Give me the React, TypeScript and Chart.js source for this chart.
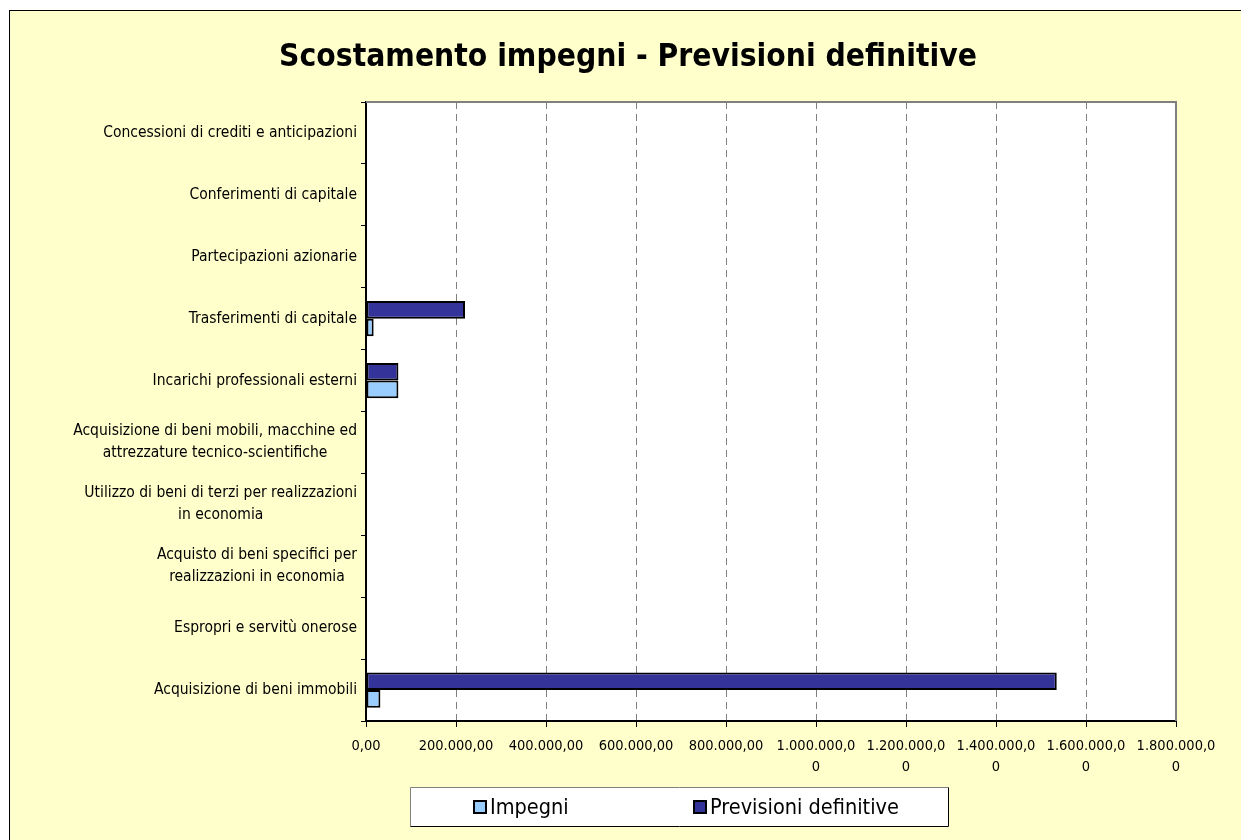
import { useEffect, useRef } from "react";
import { Chart, registerables } from "chart.js";

Chart.register(...registerables);

const titleText = "Scostamento impegni - Previsioni definitive";

const categories: string[][] = [
  ["Acquisizione di beni immobili"],
  ["Espropri e servitù onerose"],
  ["Acquisto di beni specifici per", "realizzazioni in economia"],
  ["Utilizzo di beni di terzi per realizzazioni", "in economia"],
  ["Acquisizione di beni mobili, macchine ed", "attrezzature tecnico-scientifiche"],
  ["Incarichi professionali esterni"],
  ["Trasferimenti di capitale"],
  ["Partecipazioni azionarie"],
  ["Conferimenti di capitale"],
  ["Concessioni di crediti e anticipazioni"],
];

const impegni = [32000, 0, 0, 0, 0, 72000, 17000, 0, 0, 0];
const previsioni = [1535000, 0, 0, 0, 0, 72000, 220000, 0, 0, 0];

const xTickLabels: (string | string[])[] = [
  "0,00",
  "200.000,00",
  "400.000,00",
  "600.000,00",
  "800.000,00",
  ["1.000.000,0", "0"],
  ["1.200.000,0", "0"],
  ["1.400.000,0", "0"],
  ["1.600.000,0", "0"],
  ["1.800.000,0", "0"],
];

const FONT = 'Tahoma, "DejaVu Sans Condensed", "Liberation Sans", sans-serif';

const framePlugin = {
  id: "frame",
  beforeDraw(chart: any) {
    const { ctx, chartArea } = chart;
    ctx.save();
    ctx.fillStyle = "#ffffff";
    ctx.fillRect(0, 0, chart.width, chart.height);
    ctx.fillStyle = "#FFFFCC";
    ctx.fillRect(9, 10, chart.width, chart.height);
    ctx.strokeStyle = "#000000";
    ctx.lineWidth = 1;
    ctx.strokeRect(9.5, 10.5, chart.width + 20, chart.height + 20);
    ctx.fillStyle = "#ffffff";
    ctx.fillRect(chartArea.left, chartArea.top, chartArea.right - chartArea.left, chartArea.bottom - chartArea.top);
    ctx.restore();
  },
  afterDraw(chart: any) {
    const { ctx, chartArea } = chart;
    ctx.save();
    // plot area top and right edges
    ctx.strokeStyle = "#808080";
    ctx.lineWidth = 2;
    ctx.beginPath();
    ctx.moveTo(chartArea.left, chartArea.top);
    ctx.lineTo(chartArea.right, chartArea.top);
    ctx.lineTo(chartArea.right, chartArea.bottom);
    ctx.stroke();

    // title
    ctx.fillStyle = "#000000";
    ctx.font = "bold 31.5px " + FONT;
    ctx.textAlign = "center";
    ctx.textBaseline = "middle";
    ctx.fillText(titleText, 628, 58);

    // category labels
    const yScale = chart.scales.y;
    ctx.font = "15.5px " + FONT;
    const lh = 22;
    categories.forEach((lines, i) => {
      const cy = yScale.getPixelForValue(i);
      let maxW = 0;
      lines.forEach((l) => {
        maxW = Math.max(maxW, ctx.measureText(l).width);
      });
      const cx = 357 - maxW / 2;
      const startY = cy - ((lines.length - 1) * lh) / 2;
      lines.forEach((l, j) => {
        ctx.fillText(l, cx, startY + j * lh);
      });
    });

    // legend
    const lx = 410, ly = 787, lw = 539, lhgt = 40;
    ctx.fillStyle = "#ffffff";
    ctx.fillRect(lx, ly, lw, lhgt);
    ctx.lineWidth = 1;
    ctx.strokeStyle = "#808080";
    ctx.beginPath();
    ctx.moveTo(lx + 0.5, ly + lhgt - 0.5);
    ctx.lineTo(lx + 0.5, ly + 0.5);
    ctx.lineTo(lx + lw - 0.5, ly + 0.5);
    ctx.stroke();
    ctx.strokeStyle = "#000000";
    ctx.beginPath();
    ctx.moveTo(lx + lw - 0.5, ly + 0.5);
    ctx.lineTo(lx + lw - 0.5, ly + lhgt - 0.5);
    ctx.lineTo(lx + 0.5, ly + lhgt - 0.5);
    ctx.stroke();
    const itemX = [474, 694];
    ctx.font = "21.5px " + FONT;
    ctx.textAlign = "left";
    // legend in reading order: Impegni first
    const order = [1, 0];
    order.forEach((dsIndex, i) => {
      const ds: any = chart.data.datasets[dsIndex];
      const x = itemX[i];
      const y = 807;
      ctx.fillStyle = ds.backgroundColor;
      ctx.fillRect(x, y - 6, 12, 12);
      ctx.strokeStyle = "#000000";
      ctx.lineWidth = 2;
      ctx.strokeRect(x, y - 6, 12, 12);
      ctx.fillStyle = "#000000";
      ctx.fillText(ds.label, x + 16, y + 1);
    });
    ctx.restore();
  },
};

export default function App() {
  const ref = useRef<HTMLCanvasElement>(null);
  useEffect(() => {
    if (!ref.current) return;
    const chart = new Chart(ref.current, {
      type: "bar",
      data: {
        labels: categories.map((c) => c.join(" ")),
        datasets: [
          {
            label: "Previsioni definitive",
            data: previsioni,
            backgroundColor: "#333399",
            borderColor: "#000000",
            borderWidth: 2,
            borderSkipped: false,
            barPercentage: 1,
            categoryPercentage: 0.57,
          },
          {
            label: "Impegni",
            data: impegni,
            backgroundColor: "#99CCFF",
            borderColor: "#000000",
            borderWidth: 2,
            borderSkipped: false,
            barPercentage: 1,
            categoryPercentage: 0.57,
          },
        ],
      },
      options: {
        indexAxis: "y",
        responsive: false,
        animation: false,
        layout: { padding: { left: 0, right: 65, top: 102, bottom: 59 } },
        plugins: {
          legend: { display: false },
          title: { display: false },
          tooltip: { enabled: false },
        },
        scales: {
          x: {
            min: 0,
            max: 1800000,
            ticks: {
              stepSize: 200000,
              color: "#000000",
              font: { family: FONT, size: 14.5, lineHeight: 1.5 },
              padding: 8,
              maxRotation: 0,
              autoSkip: false,
              callback: (v: any) => xTickLabels[Math.round(Number(v) / 200000)],
            },
            grid: {
              color: "#808080",
              tickColor: "#000000",
              tickLength: 6,
              tickBorderDash: [],
            } as any,
            border: { color: "#000000", width: 2, dash: [7, 5] } as any,
            afterFit: (s: any) => {
              s.height = 60;
            },
          },
          y: {
            type: "category",
            reverse: true,
            ticks: { display: false },
            grid: {
              drawOnChartArea: false,
              tickLength: 5,
              color: "#000000",
              offset: true,
            },
            border: { color: "#000000", width: 2 },
            afterFit: (s: any) => {
              s.width = 366;
            },
          },
        },
      } as any,
      plugins: [framePlugin],
    });
    return () => chart.destroy();
  }, []);
  return (
    <div style={{ position: "absolute", left: 0, top: 0, width: 1241, height: 840 }}>
      <canvas ref={ref} width={1241} height={840} style={{ display: "block" }} />
    </div>
  );
}
